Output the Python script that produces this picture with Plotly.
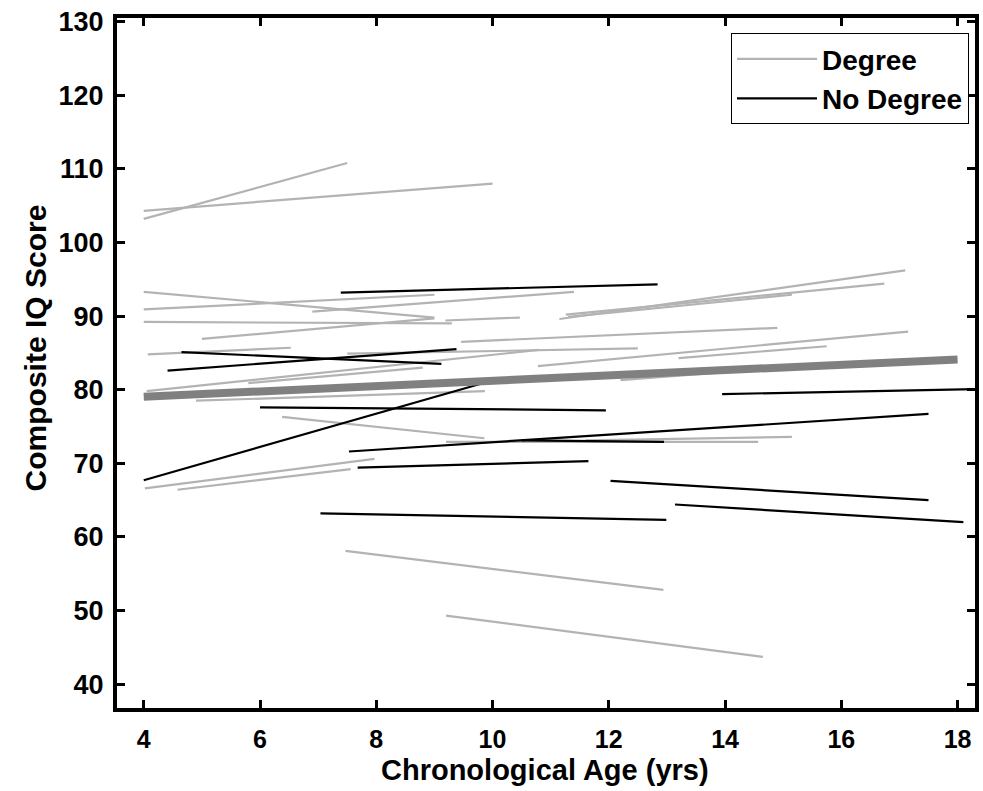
import plotly.graph_objects as go

# Degree group (gray): start/end ages and scores
deg_x0 = [4.0, 4.0, 4.0, 4.0, 6.9, 4.0, 5.0, 9.46, 4.07, 7.5, 4.05, 5.8, 4.9, 12.2,
          10.78, 13.2, 11.6, 9.2, 6.38, 4.02, 4.58, 7.47, 9.2, 11.15, 11.26, 11.3, 9.19]
deg_x1 = [7.5, 10.0, 9.0, 9.0, 11.4, 9.3, 9.0, 14.9, 6.53, 12.5, 10.8, 8.8, 9.87, 15.5,
          17.15, 15.75, 15.15, 14.57, 9.86, 7.97, 7.56, 12.94, 14.65, 17.1, 16.74, 15.15, 10.47]
deg_y0 = [103.2, 104.3, 93.3, 90.9, 90.6, 89.2, 86.9, 86.5, 84.8, 84.9, 79.8, 80.9, 78.5, 81.3,
          83.2, 84.3, 73.1, 72.9, 76.3, 66.6, 66.4, 58.1, 49.3, 89.6, 90.2, 89.9, 89.4]
deg_y1 = [110.8, 108.0, 89.8, 92.9, 93.3, 89.0, 89.7, 88.4, 85.7, 85.6, 85.4, 83.0, 79.8, 83.3,
          87.9, 85.9, 73.6, 72.9, 73.4, 70.6, 69.2, 52.8, 43.7, 96.2, 94.4, 92.9, 89.8]

# No Degree group (black)
nod_x0 = [4.65, 4.41, 13.95, 6.0, 7.53, 4.0, 7.68, 7.04, 7.39, 10.5, 12.03, 13.14]
nod_x1 = [9.12, 9.38, 18.4, 11.95, 17.5, 9.8, 11.65, 12.99, 12.84, 12.95, 17.5, 18.1]
nod_y0 = [85.1, 82.6, 79.4, 77.6, 71.6, 67.7, 69.4, 63.2, 93.2, 73.1, 67.6, 64.4]
nod_y1 = [83.5, 85.5, 80.1, 77.2, 76.7, 80.8, 70.3, 62.3, 94.3, 72.9, 65.0, 62.0]

# Group mean trajectory
mean_x = [4.0, 18.0]
mean_y = [79.05, 84.1]

x_ticks = [4, 6, 8, 10, 12, 14, 16, 18]
y_ticks = [40, 50, 60, 70, 80, 90, 100, 110, 120, 130]


def segs(x0, x1, y0, y1):
    xs, ys = [], []
    for a, b, c, d in zip(x0, x1, y0, y1):
        xs += [a, b, None]
        ys += [c, d, None]
    return xs, ys


fig = go.Figure()
gx, gy = segs(deg_x0, deg_x1, deg_y0, deg_y1)
bx, by = segs(nod_x0, nod_x1, nod_y0, nod_y1)
fig.add_trace(go.Scatter(x=gx, y=gy, mode="lines", name="Degree",
                         line=dict(color="#b3b3b3", width=2.2)))
fig.add_trace(go.Scatter(x=bx, y=by, mode="lines", name="No Degree",
                         line=dict(color="#000000", width=2.2)))
fig.add_trace(go.Scatter(x=mean_x, y=mean_y, mode="lines", showlegend=False,
                         line=dict(color="#808080", width=8)))

FONT = "Liberation Sans, Arial, sans-serif"
axis_common = dict(showgrid=False, zeroline=False, showline=True, linecolor="black",
                   linewidth=4, mirror="allticks", ticks="inside", ticklen=8,
                   tickwidth=3, tickcolor="black")

fig.update_layout(
    width=983, height=791,
    margin=dict(l=117, r=4, t=18, b=83),
    paper_bgcolor="white", plot_bgcolor="white",
    xaxis=dict(range=[3.54, 18.3], tickvals=x_ticks, ticktext=[str(v) for v in x_ticks],
               ticklabelstandoff=6,
               tickfont=dict(family=FONT, size=25, color="black", weight="bold"),
               **axis_common),
    yaxis=dict(range=[36.75, 130.5], tickvals=y_ticks, ticktext=[str(v) for v in y_ticks],
               ticklabelstandoff=4,
               tickfont=dict(family=FONT, size=27, color="black", weight="bold"),
               **axis_common),
    legend=dict(x=0.993, y=0.978, xanchor="right", yanchor="top",
                bgcolor="white", bordercolor="black", borderwidth=1,
                font=dict(family=FONT, size=28, color="black", weight="bold"),
                itemwidth=80, tracegroupgap=0),
    annotations=[
        dict(text="<b>Chronological Age (yrs)</b>", xref="paper", yref="paper",
             x=(547 - 117) / 862, y=-(770 - 708) / 690, xanchor="center", yanchor="middle",
             showarrow=False, font=dict(family=FONT, size=29, color="black")),
        dict(text="<b>Composite IQ Score</b>", xref="paper", yref="paper",
             x=-(117 - 35) / 862, y=(708 - 348) / 690, xanchor="center", yanchor="middle",
             textangle=-90, showarrow=False, font=dict(family=FONT, size=30, color="black")),
    ],
)

fig.write_html("out.html")
